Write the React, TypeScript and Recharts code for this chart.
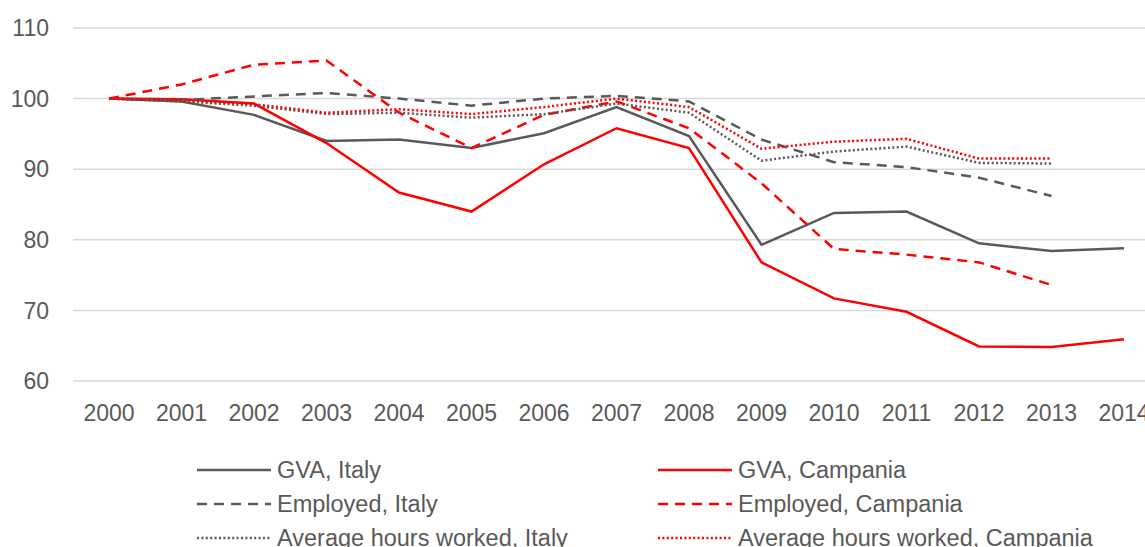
import React from 'react';
import { LineChart, CartesianGrid, XAxis, YAxis, Line } from 'recharts';

const years = ['2000', '2001', '2002', '2003', '2004', '2005', '2006', '2007', '2008', '2009', '2010', '2011', '2012', '2013', '2014'];
const yTicks = [60, 70, 80, 90, 100, 110];

const gvaItaly = [100, 99.6, 97.7, 94.0, 94.2, 93.0, 95.1, 98.8, 94.7, 79.3, 83.8, 84.0, 79.5, 78.4, 78.8];
const gvaCampania = [100, 99.9, 99.3, 93.7, 86.7, 84.0, 90.7, 95.8, 93.0, 76.8, 71.7, 69.8, 64.9, 64.8, 65.9];
const employedItaly = [100, 99.8, 100.3, 100.8, 100.0, 99.0, 100.0, 100.4, 99.6, 94.2, 91.0, 90.3, 88.8, 86.2, null];
const employedCampania = [100, 102.0, 104.8, 105.4, 98.0, 93.0, 97.7, 99.6, 95.8, 88.0, 78.7, 77.9, 76.8, 73.6, null];
const hoursItaly = [100, 99.6, 99.0, 97.8, 98.0, 97.3, 97.8, 99.3, 98.0, 91.2, 92.5, 93.2, 90.9, 90.8, null];
const hoursCampania = [100, 99.8, 99.2, 98.0, 98.5, 97.8, 98.8, 100.0, 98.8, 92.9, 93.9, 94.3, 91.5, 91.5, null];

const GRAY = '#595959';
const RED = '#ff0000';
const FONT = '"Liberation Sans", Arial, sans-serif';

const data = years.map((year, i) => ({
  year,
  gvaItaly: gvaItaly[i],
  gvaCampania: gvaCampania[i],
  employedItaly: employedItaly[i],
  employedCampania: employedCampania[i],
  hoursItaly: hoursItaly[i],
  hoursCampania: hoursCampania[i]
}));

type SeriesDef = { key: string; name: string; color: string; dash?: string };

const series: SeriesDef[] = [
  { key: 'gvaItaly', name: 'GVA, Italy', color: GRAY },
  { key: 'gvaCampania', name: 'GVA, Campania', color: RED },
  { key: 'employedItaly', name: 'Employed, Italy', color: GRAY, dash: '10 7' },
  { key: 'employedCampania', name: 'Employed, Campania', color: RED, dash: '10 7' },
  { key: 'hoursItaly', name: 'Average hours worked, Italy', color: GRAY, dash: '2 2.4' },
  { key: 'hoursCampania', name: 'Average hours worked, Campania', color: RED, dash: '2 2.4' }
];

const LegendItem = ({ s, left, top }: { s: SeriesDef; left: number; top: number }) => (
  <div style={{ position: 'absolute', left, top: top - 17, height: 34, display: 'flex', alignItems: 'center' }}>
    <svg width={74} height={6} style={{ marginRight: 6 }}>
      <line x1={0} y1={3} x2={74} y2={3} stroke={s.color} strokeWidth={2.5} strokeDasharray={s.dash} />
    </svg>
    <span style={{ fontFamily: FONT, fontSize: 23.5, color: GRAY, whiteSpace: 'nowrap' }}>{s.name}</span>
  </div>
);

export default function App() {
  const rows = [470, 504, 538];
  return (
    <div
      style={{
        position: 'absolute',
        left: 0,
        top: 0,
        width: 1145,
        height: 547,
        overflow: 'hidden',
        background: '#fff'
      }}
    >
      <LineChart
        width={1160}
        height={547}
        data={data}
        margin={{ top: 28, right: 0, left: 0, bottom: 136 }}
        style={{ fontFamily: FONT }}
      >
        <CartesianGrid vertical={false} stroke="#d9d9d9" strokeWidth={1.5} />
        <XAxis
          dataKey="year"
          height={30}
          axisLine={false}
          tickLine={false}
          tickMargin={18}
          padding={{ left: 36, right: 36 }}
          interval={0}
          tick={{ fill: GRAY, fontSize: 23, fontFamily: FONT }}
        />
        <YAxis
          width={73}
          domain={[60, 110]}
          ticks={yTicks}
          axisLine={false}
          tickLine={false}
          tickMargin={18}
          tick={{ fill: GRAY, fontSize: 23, fontFamily: FONT }}
        />
        {series.map((s) => (
          <Line
            key={s.key}
            type="linear"
            dataKey={s.key}
            name={s.name}
            stroke={s.color}
            strokeWidth={2.5}
            strokeDasharray={s.dash}
            dot={false}
            activeDot={false}
            isAnimationActive={false}
          />
        ))}
      </LineChart>
      {series.map((s, i) => (
        <LegendItem key={s.key} s={s} left={i % 2 === 0 ? 197 : 658} top={rows[Math.floor(i / 2)]} />
      ))}
    </div>
  );
}
